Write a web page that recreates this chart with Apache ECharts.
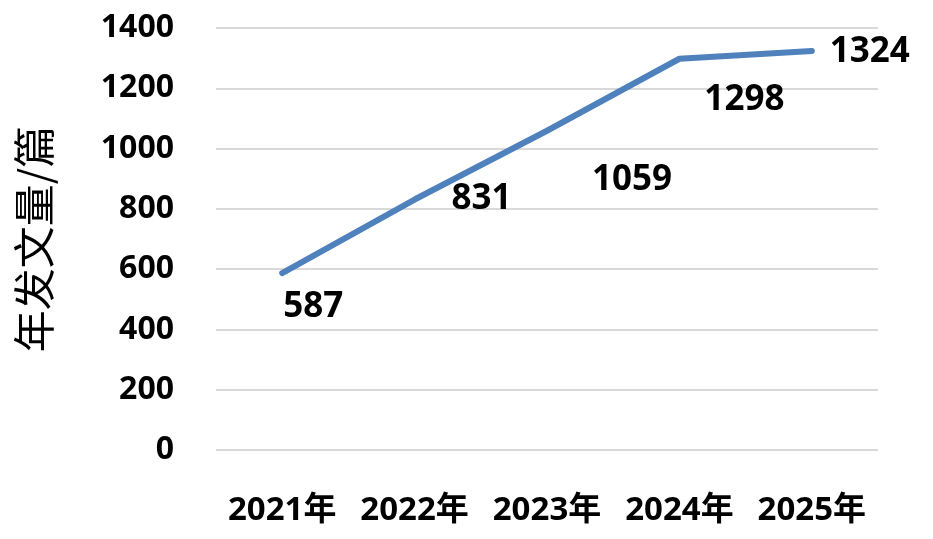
<!DOCTYPE html>
<html>
<head>
<meta charset="utf-8">
<script src="https://cdn.jsdelivr.net/npm/echarts@6/dist/echarts.min.js"></script>
<style>
  html, body { margin: 0; padding: 0; background: #fff; }
  #main { width: 933px; height: 539px; }
</style>
</head>
<body>
<div id="main"></div>
<script>
// 年份与发文量
var years = ['2021年', '2022年', '2023年', '2024年', '2025年'];
var counts = [587, 831, 1059, 1298, 1324];
var yTicks = [0, 200, 400, 600, 800, 1000, 1200, 1400];

var chart = echarts.init(document.getElementById('main'));

// 数据标签相对点的偏移（照原图摆放）
var labelOffsets = [[31, 34], [67, 0], [85, 49], [65, 41], [58, 1]];
var seriesData = counts.map(function (v, i) {
    return { value: v, label: { offset: labelOffsets[i] } };
});

var font = '"Noto Sans", "Noto Sans CJK SC", sans-serif';

var option = {
    animation: false,
    grid: { left: 216, right: 55, top: 28, bottom: 89 },
    xAxis: {
        type: 'category',
        data: years,
        boundaryGap: true,
        axisLine: { show: false },
        axisTick: { show: false },
        axisLabel: {
            color: '#000',
            fontFamily: font,
            fontWeight: 'bold',
            fontSize: 33,
            margin: 44,
            interval: 0
        }
    },
    yAxis: {
        type: 'value',
        min: yTicks[0],
        max: yTicks[yTicks.length - 1],
        interval: yTicks[1] - yTicks[0],
        name: '年发文量/篇',
        nameLocation: 'middle',
        nameRotate: 90,
        nameGap: 161,
        nameTextStyle: {
            color: '#000',
            fontFamily: '"Noto Sans CJK SC", sans-serif',
            fontSize: 42,
            fontWeight: 'normal'
        },
        axisLine: { show: false },
        axisTick: { show: false },
        axisLabel: {
            color: '#000',
            fontFamily: font,
            fontWeight: 'bold',
            fontSize: 32,
            margin: 42,
            formatter: function (v) { return String(v); }
        },
        splitLine: { lineStyle: { color: '#d9d9d9', width: 2 } }
    },
    series: [
        {
            type: 'line',
            data: seriesData,
            symbol: 'circle',
            symbolSize: 2,
            showSymbol: true,
            itemStyle: { color: 'rgba(0,0,0,0)', borderWidth: 0 },
            lineStyle: { color: '#4f81bd', width: 6, cap: 'round', join: 'round' },
            label: {
                show: true,
                position: 'inside',
                align: 'center',
                verticalAlign: 'middle',
                color: '#000',
                fontFamily: font,
                fontWeight: 'bold',
                fontSize: 35
            },
            emphasis: { disabled: true }
        }
    ]
};

chart.setOption(option);
</script>
</body>
</html>
